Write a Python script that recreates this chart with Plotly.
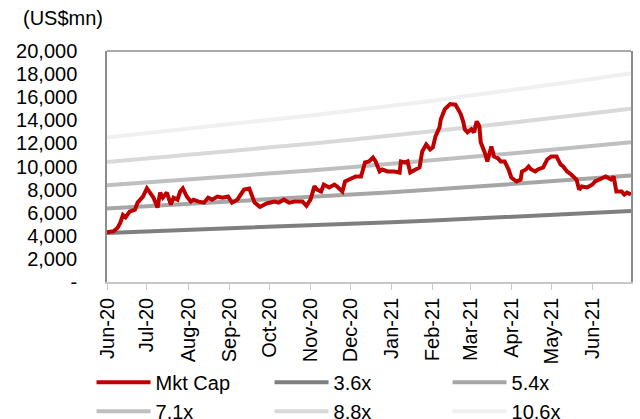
import plotly.graph_objects as go

# Market cap (US$mn)
mc_dates = ["2020-06-01","2020-06-06","2020-06-09","2020-06-11","2020-06-13","2020-06-15","2020-06-18","2020-06-22","2020-06-24","2020-06-28",
            "2020-07-01","2020-07-04","2020-07-06","2020-07-09","2020-07-11","2020-07-13","2020-07-16","2020-07-19","2020-07-21","2020-07-24",
            "2020-07-26","2020-07-28","2020-07-31","2020-08-03","2020-08-05","2020-08-09","2020-08-13","2020-08-16","2020-08-19","2020-08-23",
            "2020-08-27","2020-08-31","2020-09-03","2020-09-07","2020-09-12","2020-09-16","2020-09-18","2020-09-20","2020-09-24","2020-09-29",
            "2020-10-05","2020-10-08","2020-10-12","2020-10-16","2020-10-20","2020-10-26","2020-10-29","2020-11-01","2020-11-04","2020-11-06",
            "2020-11-09","2020-11-11","2020-11-15","2020-11-19","2020-11-21","2020-11-25","2020-11-27","2020-12-01","2020-12-05","2020-12-09",
            "2020-12-11","2020-12-12","2020-12-15","2020-12-18","2020-12-20","2020-12-23","2020-12-25","2020-12-29","2021-01-03","2021-01-07",
            "2021-01-08","2021-01-11","2021-01-13","2021-01-15","2021-01-19","2021-01-22","2021-01-24","2021-01-27","2021-01-30","2021-02-01",
            "2021-02-03","2021-02-06","2021-02-07","2021-02-10","2021-02-14","2021-02-18","2021-02-20","2021-02-22","2021-02-24","2021-02-25",
            "2021-02-27","2021-03-02","2021-03-04","2021-03-06","2021-03-08","2021-03-09","2021-03-12","2021-03-14","2021-03-17","2021-03-19",
            "2021-03-22","2021-03-24","2021-03-27","2021-03-30","2021-04-01","2021-04-05","2021-04-08","2021-04-09","2021-04-12","2021-04-14",
            "2021-04-16","2021-04-19","2021-04-21","2021-04-25","2021-04-28","2021-05-01","2021-05-05","2021-05-08","2021-05-10","2021-05-13",
            "2021-05-16","2021-05-18","2021-05-20","2021-05-22","2021-05-24","2021-05-28","2021-06-01","2021-06-03","2021-06-07","2021-06-11",
            "2021-06-15","2021-06-17","2021-06-19","2021-06-23","2021-06-25","2021-06-27","2021-06-30"]
mc_values = [4300,4400,4700,5130,5800,5600,6090,6260,6870,7400,
             8100,7570,7300,6440,7740,7300,7740,6700,7300,7130,
             7830,8100,7400,6960,7130,6960,6870,7300,7130,7400,
             7300,7400,6870,7130,8000,8100,7400,6870,6500,6800,
             6960,6870,7130,6870,6960,6960,6600,7130,8300,8000,
             7830,8440,8180,8440,8270,7830,8700,8870,9130,9130,
             9920,10350,10440,10780,10440,9570,9740,9570,9570,9480,
             10440,10350,10440,9480,9740,9920,11300,11910,11480,11650,
             12610,13390,14090,14960,15400,15350,14960,14530,13830,13220,
             12960,13220,12960,13910,13480,12090,11220,10440,11740,10870,
             10700,10440,10440,9740,9050,8700,8870,9570,9740,10000,
             9740,9570,9740,9920,10610,10870,10870,10180,10000,9570,
             9310,9050,8870,8000,8270,8180,8440,8700,8870,9130,
             8870,9130,7830,7830,7570,7740,7570]

# P/E band lines (US$mn), monthly
band_dates = ["2020-06-01","2020-07-01","2020-08-01","2020-09-01","2020-10-01","2020-11-01","2020-12-01",
              "2021-01-01","2021-02-01","2021-03-01","2021-04-01","2021-05-01","2021-06-01","2021-06-30"]
band_36 = [4250,4370,4500,4630,4760,4900,5040,5180,5330,5480,5640,5800,5970,6140]
band_54 = [6370,6560,6740,6940,7140,7340,7550,7770,8000,8220,8460,8700,8950,9210]
band_71 = [8380,8620,8870,9120,9390,9660,9930,10220,10520,10810,11130,11450,11770,12110]
band_88 = [10380,10680,10990,11310,11630,11970,12310,12660,13030,13400,13790,14190,14590,15000]
band_106 = [12510,12870,13240,13620,14010,14420,14830,15250,15700,16140,16610,17090,17580,18070]

y_ticks = [0,2000,4000,6000,8000,10000,12000,14000,16000,18000,20000]
y_ticktext = ["-","2,000","4,000","6,000","8,000","10,000","12,000","14,000","16,000","18,000","20,000"]

FONT = "Liberation Sans, Arial, sans-serif"
fig = go.Figure()
bands = [("3.6x", band_36, "#7f7f7f", 2),
         ("5.4x", band_54, "#a6a6a6", 3),
         ("7.1x", band_71, "#bfbfbf", 4),
         ("8.8x", band_88, "#d9d9d9", 5),
         ("10.6x", band_106, "#f0f0f0", 6)]
for name, vals, col, rank in bands:
    fig.add_trace(go.Scatter(x=band_dates, y=vals, mode="lines", name=name,
                             line=dict(color=col, width=4), legendrank=rank))
fig.add_trace(go.Scatter(x=mc_dates, y=mc_values, mode="lines", name="Mkt Cap",
                         line=dict(color="#c00000", width=4), legendrank=1))

fig.update_layout(
    width=640, height=419,
    margin=dict(l=107, r=9, t=51, b=137, autoexpand=False),
    paper_bgcolor="white", plot_bgcolor="white",
    font=dict(family=FONT, size=20, color="#000000"),
    showlegend=True,
    legend=dict(orientation="h", x=-0.0295, xanchor="left", y=-0.35, yanchor="top",
                itemwidth=54, entrywidth=109, entrywidthmode="pixels",
                font=dict(family=FONT, size=20), bgcolor="rgba(0,0,0,0)",
                tracegroupgap=0),
    annotations=[dict(text="(US$mn)", xref="paper", yref="paper", x=-0.165, y=1.145,
                      xanchor="left", yanchor="middle", showarrow=False,
                      font=dict(family=FONT, size=20))],
)
fig.update_xaxes(type="date", range=["2020-06-01", "2021-06-30"], automargin=False,
                 tick0="2020-06-01", dtick="M1", tickformat="%b-%y", tickangle=-90,
                 showline=True, linecolor="#c8c8c8", linewidth=1.5, mirror=False,
                 ticks="outside", ticklen=6, tickcolor="#c8c8c8", showgrid=False,
                 tickfont=dict(family=FONT, size=20))
fig.update_yaxes(range=[0, 20000], tickvals=y_ticks, ticktext=y_ticktext, automargin=False,
                 showline=True, linecolor="#8c8c8c", linewidth=1.5, mirror=True,
                 ticks="", showgrid=False, zeroline=False, ticklabelstandoff=24,
                 tickfont=dict(family=FONT, size=20))
# top border of plot area
fig.add_shape(type="line", xref="paper", yref="paper", x0=0, x1=1, y0=1, y1=1,
              line=dict(color="#8c8c8c", width=1.5))
fig.write_html("out.html")
